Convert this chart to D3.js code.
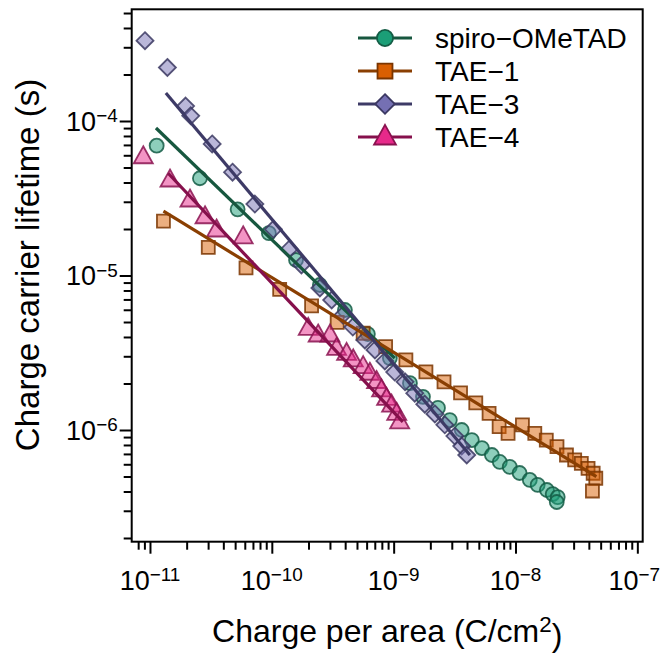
<!DOCTYPE html>
<html>
<head>
<meta charset="utf-8">
<script src="https://cdn.jsdelivr.net/npm/d3@7/dist/d3.min.js"></script>
<style>
  body { margin: 0; background: #fff; }
  text { font-family: "Liberation Sans", Arial, sans-serif; fill: #000; }
</style>
</head>
<body>
<div id="chart"></div>
<script>
// series names (legend order)
const seriesNames = ["spiro\u2212OMeTAD", "TAE\u22121", "TAE\u22123", "TAE\u22124"];

// spiro-OMeTAD: charge per area (C/cm2), lifetime (s)
const spiroCharge = [1.135e-11, 2.57e-11, 5.24e-11, 9.46e-11, 1.58e-10, 2.48e-10, 3.98e-10, 6.14e-10, 9.31e-10,
  1.36e-9, 1.74e-9, 2.31e-9, 2.89e-9, 3.62e-9, 4.38e-9, 5.30e-9, 6.40e-9, 7.43e-9, 8.97e-9,
  1.08e-8, 1.31e-8, 1.52e-8, 1.81e-8, 2.02e-8, 2.22e-8, 2.18e-8];
const spiroLifetime = [6.92e-5, 4.26e-5, 2.68e-5, 1.88e-5, 1.26e-5, 8.68e-6, 5.98e-6, 4.18e-6, 2.92e-6,
  2.01e-6, 1.64e-6, 1.39e-6, 1.16e-6, 1.00e-6, 8.61e-7, 7.64e-7, 6.89e-7, 6.21e-7, 5.77e-7,
  5.27e-7, 4.75e-7, 4.41e-7, 4.09e-7, 3.85e-7, 3.68e-7, 3.42e-7];

// TAE-1
const tae1Charge = [1.29e-11, 3.01e-11, 6.14e-11, 1.16e-10, 2.12e-10, 3.44e-10, 5.62e-10, 8.59e-10, 1.26e-9,
  1.84e-9, 2.59e-9, 3.54e-9, 4.72e-9, 6.07e-9, 7.34e-9, 8.69e-9, 1.14e-8, 1.44e-8, 1.79e-8,
  2.19e-8, 2.62e-8, 3.06e-8, 3.47e-8, 3.94e-8, 4.34e-8, 4.56e-8, 4.28e-8];
const tae1Lifetime = [2.25e-5, 1.52e-5, 1.12e-5, 8.14e-6, 6.35e-6, 4.98e-6, 4.23e-6, 3.46e-6, 2.84e-6,
  2.38e-6, 2.05e-6, 1.74e-6, 1.50e-6, 1.28e-6, 1.05e-6, 9.52e-7, 1.08e-6, 9.52e-7, 8.61e-7,
  7.80e-7, 6.89e-7, 6.40e-7, 6.08e-7, 5.65e-7, 5.25e-7, 4.87e-7, 4.03e-7];

// TAE-3
const tae3Charge = [9.1e-12, 1.39e-11, 1.96e-11, 2.16e-11, 3.24e-11, 4.76e-11, 7.26e-11, 1.03e-10, 1.39e-10,
  1.75e-10, 2.48e-10, 3.10e-10, 3.83e-10, 4.62e-10, 5.80e-10, 7.02e-10, 8.47e-10, 1.02e-9,
  1.24e-9, 1.49e-9, 1.80e-9, 2.18e-9, 2.63e-9, 3.18e-9, 3.62e-9, 3.98e-9];
const tae3Lifetime = [3.31e-4, 2.22e-4, 1.25e-4, 1.08e-4, 7.10e-5, 4.66e-5, 2.90e-5, 1.99e-5, 1.48e-5,
  1.17e-5, 8.30e-6, 6.94e-6, 5.55e-6, 4.64e-6, 3.83e-6, 3.30e-6, 2.80e-6, 2.37e-6,
  2.05e-6, 1.73e-6, 1.47e-6, 1.27e-6, 1.08e-6, 9.14e-7, 7.87e-7, 6.89e-7];

// TAE-4
const tae4Charge = [8.81e-12, 1.46e-11, 2.13e-11, 2.83e-11, 3.52e-11, 5.82e-11, 1.99e-10, 2.40e-10, 3.00e-10,
  3.40e-10, 4.11e-10, 4.66e-10, 5.62e-10, 6.38e-10, 7.24e-10, 7.96e-10, 8.75e-10, 9.62e-10, 1.06e-9, 1.12e-9];
const tae4Lifetime = [5.87e-5, 4.15e-5, 3.08e-5, 2.40e-5, 1.97e-5, 1.78e-5, 4.55e-6, 4.12e-6, 4.12e-6,
  3.38e-6, 3.13e-6, 2.84e-6, 2.57e-6, 2.33e-6, 2.06e-6, 1.82e-6, 1.60e-6, 1.45e-6, 1.28e-6, 1.13e-6];

// power-law fit lines (start and end of each fit)
const spiroFitCharge = [1.12e-11, 1.02e-9], spiroFitLifetime = [9.01e-5, 2.92e-6];
const tae1FitCharge = [1.29e-11, 4.61e-8], tae1FitLifetime = [2.61e-5, 4.99e-7];
const tae3FitCharge = [1.35e-11, 4.22e-9], tae3FitLifetime = [1.52e-4, 6.89e-7];
const tae4FitCharge = [1.41e-11, 1.19e-9], tae4FitLifetime = [4.59e-5, 1.13e-6];

// axis ticks
const xMajorExp = [-11, -10, -9, -8, -7];
const yMajorExp = [-6, -5, -4];

const width = 660, height = 653;
const margin = { top: 9.3, right: 17.3, bottom: 111.3, left: 131.7 };
const innerWidth = width - margin.left - margin.right;
const innerHeight = height - margin.top - margin.bottom;

const svg = d3.select("#chart").append("svg")
  .attr("width", width).attr("height", height);
const g = svg.append("g").attr("transform", `translate(${margin.left},${margin.top})`);

const x = d3.scaleLog().domain([Math.pow(10, -11.15), Math.pow(10, -6.956)]).range([0, innerWidth]);
const y = d3.scaleLog().domain([Math.pow(10, -6.723), Math.pow(10, -3.277)]).range([innerHeight, 0]);

function minorTicks(scale, lo, hi) {
  const [d0, d1] = scale.domain().slice().sort(d3.ascending);
  const out = [];
  for (let e = lo; e <= hi; e++) {
    for (let k = 2; k <= 9; k++) {
      const v = k * Math.pow(10, e);
      if (v >= d0 && v <= d1) out.push(v);
    }
  }
  return out;
}

// minor ticks
g.append("g").attr("class", "axis")
  .attr("transform", `translate(0,${innerHeight})`)
  .call(d3.axisBottom(x).tickValues(minorTicks(x, -12, -7)).tickSize(8).tickFormat(""));
g.append("g").attr("class", "axis")
  .call(d3.axisLeft(y).tickValues(minorTicks(y, -7, -4)).tickSize(8).tickFormat(""));

// major ticks
g.append("g").attr("class", "axis")
  .attr("transform", `translate(0,${innerHeight})`)
  .call(d3.axisBottom(x).tickValues(xMajorExp.map(e => Math.pow(10, e))).tickSize(12).tickFormat(""));
g.append("g").attr("class", "axis")
  .call(d3.axisLeft(y).tickValues(yMajorExp.map(e => Math.pow(10, e))).tickSize(12).tickFormat(""));

g.selectAll(".axis .domain").remove();
g.selectAll(".axis text").remove();
g.selectAll(".axis line").attr("stroke", "#000").attr("stroke-width", 2);

// power-of-ten labels
function powLabel(sel, e) {
  sel.append("tspan").text("10");
  sel.append("tspan").attr("dy", "-0.45em").attr("font-size", "0.7em").text("\u2212" + Math.abs(e));
}
xMajorExp.forEach(e => {
  const t = g.append("text")
    .attr("x", x(Math.pow(10, e)) - (e === -7 ? 3 : 0))
    .attr("y", innerHeight + 48)
    .attr("text-anchor", "middle")
    .attr("font-size", 27);
  powLabel(t, e);
});
yMajorExp.forEach(e => {
  const t = g.append("text")
    .attr("x", -14)
    .attr("y", y(Math.pow(10, e)) + 10)
    .attr("text-anchor", "end")
    .attr("font-size", 27);
  powLabel(t, e);
});

// axis titles
const xt = svg.append("text")
  .attr("x", margin.left + innerWidth / 2)
  .attr("y", 642)
  .attr("text-anchor", "middle")
  .attr("font-size", 32);
xt.append("tspan").text("Charge per area (C/cm");
xt.append("tspan").attr("dy", "-0.45em").attr("font-size", "0.7em").text("2");
xt.append("tspan").attr("dy", "0.45em").text(")");

svg.append("text")
  .attr("transform", "translate(39,265) rotate(-90)")
  .attr("text-anchor", "middle")
  .attr("font-size", 33)
  .text("Charge carrier lifetime (s)");

// series definitions
const series = [
  { name: seriesNames[0], charge: spiroCharge, life: spiroLifetime, fitC: spiroFitCharge, fitL: spiroFitLifetime,
    fill: "#1b9e77", stroke: "#145c45", line: "#17573f", shape: "circle" },
  { name: seriesNames[1], charge: tae1Charge, life: tae1Lifetime, fitC: tae1FitCharge, fitL: tae1FitLifetime,
    fill: "#d95f02", stroke: "#7a3500", line: "#8a3f02", shape: "square" },
  { name: seriesNames[2], charge: tae3Charge, life: tae3Lifetime, fitC: tae3FitCharge, fitL: tae3FitLifetime,
    fill: "#7570b3", stroke: "#3b3862", line: "#3d3a66", shape: "diamond" },
  { name: seriesNames[3], charge: tae4Charge, life: tae4Lifetime, fitC: tae4FitCharge, fitL: tae4FitLifetime,
    fill: "#e7298a", stroke: "#8a1350", line: "#86104c", shape: "triangle" }
];

function shapePath(shape, s) {
  if (shape === "circle") { const r = 7 * s; return `M${r},0A${r},${r} 0 1,1 ${-r},0A${r},${r} 0 1,1 ${r},0Z`; }
  if (shape === "square") { const h = 6.5 * s; return `M${-h},${-h}H${h}V${h}H${-h}Z`; }
  if (shape === "diamond") { const h = 8.5 * s; return `M0,${-h}L${h},0L0,${h}L${-h},0Z`; }
  const w = 9.5 * s, hh = 8.5 * s;
  return `M0,${-hh - 2 * s}L${w},${hh - 2 * s}L${-w},${hh - 2 * s}Z`;
}

// points
series.forEach(sr => {
  g.selectAll(null)
    .data(sr.charge.map((c, i) => [c, sr.life[i]]))
    .enter().append("path")
    .attr("transform", d => `translate(${x(d[0])},${y(d[1])})`)
    .attr("d", shapePath(sr.shape, 1))
    .attr("fill", sr.fill)
    .attr("fill-opacity", 0.5)
    .attr("stroke", sr.stroke)
    .attr("stroke-opacity", 0.85)
    .attr("stroke-width", 1.8);
});

// fit lines
const line = d3.line().x(d => x(d[0])).y(d => y(d[1]));
series.forEach(sr => {
  g.append("path")
    .datum(sr.fitC.map((c, i) => [c, sr.fitL[i]]))
    .attr("fill", "none")
    .attr("stroke", sr.line)
    .attr("stroke-width", 3.2)
    .attr("d", line);
});

// box
g.append("rect")
  .attr("width", innerWidth).attr("height", innerHeight)
  .attr("fill", "none").attr("stroke", "#000").attr("stroke-width", 2);

// legend
const legend = svg.append("g").attr("transform", "translate(358,38)");
series.forEach((sr, i) => {
  const row = legend.append("g").attr("transform", `translate(0,${i * 33})`);
  row.append("line").attr("x1", 0).attr("x2", 54).attr("y1", 0).attr("y2", 0)
    .attr("stroke", sr.line).attr("stroke-width", 3.2);
  row.append("path")
    .attr("transform", "translate(27,0)")
    .attr("d", shapePath(sr.shape, 1.15))
    .attr("fill", sr.fill)
    .attr("stroke", sr.stroke)
    .attr("stroke-width", 1.8);
  row.append("text")
    .attr("x", 77).attr("y", 10)
    .attr("font-size", 28)
    .text(sr.name);
});
</script>
</body>
</html>
